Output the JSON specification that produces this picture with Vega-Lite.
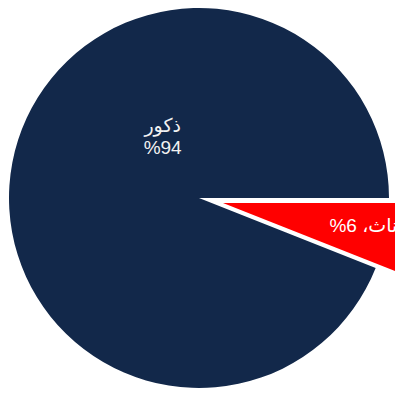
{
  "$schema": "https://vega.github.io/schema/vega-lite/v6.json",
  "width": 392,
  "height": 396,
  "autosize": {"type": "none"},
  "padding": {"left": 3, "top": 0, "right": 0, "bottom": 3},
  "background": "white",
  "view": {"stroke": null},
  "data": {"values": [
    {"g": "إناث", "value": 6, "o": 1, "label": "\u202Bإناث، 6%\u202C"},
    {"g": "ذكور", "value": 94, "o": 2, "label": ["\u202Bذكور\u202C", "\u202B\u061C94%\u202C"]}
  ]},
  "encoding": {
    "theta": {"field": "value", "type": "quantitative", "stack": true, "scale": {"domain": [0, 100], "range": [1.5708, 7.854]}},
    "order": {"field": "o", "type": "quantitative"},
    "color": {"field": "g", "type": "nominal", "scale": {"domain": ["إناث", "ذكور"], "range": ["#ff0000", "#12284a"]}, "legend": null}
  },
  "layer": [
    {
      "mark": {"type": "arc", "radius": 190},
      "encoding": {"opacity": {"condition": {"test": "datum.g === 'إناث'", "value": 0}, "value": 1}}
    },
    {
      "mark": {"type": "arc", "radius": 190, "xOffset": 24, "yOffset": 5},
      "encoding": {"opacity": {"condition": {"test": "datum.g === 'ذكور'", "value": 0}, "value": 1}}
    },
    {
      "mark": {"type": "text", "radius": 37, "dy": -65, "fontSize": 19, "lineHeight": 22, "align": "center", "baseline": "middle", "font": "Liberation Sans, DejaVu Sans, sans-serif"},
      "encoding": {
        "text": {"field": "label"},
        "color": {"value": "#f2f2f2"},
        "detail": {"field": "g"},
        "opacity": {"condition": {"test": "datum.g === 'إناث'", "value": 0}, "value": 1}
      }
    },
    {
      "mark": {"type": "text", "radius": 170, "dy": -4, "fontSize": 19, "align": "center", "baseline": "middle", "font": "Liberation Sans, DejaVu Sans, sans-serif"},
      "encoding": {
        "text": {"field": "label"},
        "color": {"value": "white"},
        "detail": {"field": "g"},
        "opacity": {"condition": {"test": "datum.g === 'ذكور'", "value": 0}, "value": 1}
      }
    }
  ]
}
